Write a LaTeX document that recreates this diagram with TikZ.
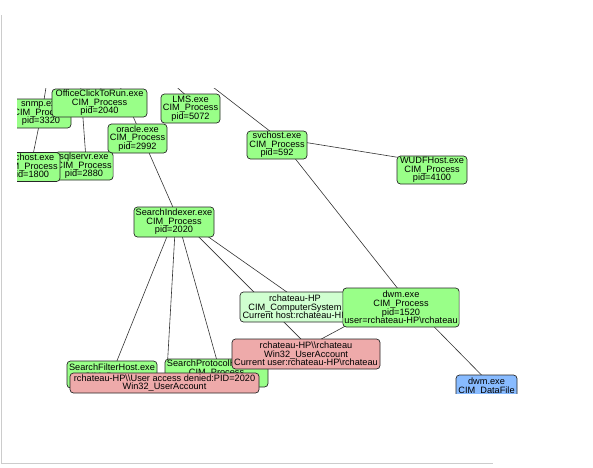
\documentclass[tikz,border=0pt]{standalone}
\usepackage{fontspec}
\setmainfont{Liberation Sans}
\usetikzlibrary{backgrounds}
\definecolor{procgreen}{RGB}{153,255,136}
\definecolor{hostgreen}{RGB}{208,255,208}
\definecolor{userred}{RGB}{238,170,170}
\definecolor{fileblue}{RGB}{136,187,255}
\definecolor{framegray}{RGB}{204,204,204}
\newcommand{\bsl}{\textbackslash}
\begin{document}
\begin{tikzpicture}[x=1pt,y=-1pt,
  box/.style={draw=black!85, line width=0.7pt, rounded corners=3.5pt,
    inner xsep=1.5pt, inner ysep=0pt, align=center,
    font=\fontsize{9.2}{8.6}\selectfont},
  proc/.style={box, fill=procgreen},
  hostbox/.style={box, fill=hostgreen},
  userbox/.style={box, fill=userred},
  filebox/.style={box, fill=fileblue},
  edge/.style={draw=black!80, line width=0.6pt}]
\useasboundingbox (0,0) rectangle (593,467);
\draw[framegray, line width=1pt] (1.5,15) -- (1.5,463.5) -- (493,463.5);
\begin{scope}
\clip (17,88) rectangle (593,393);
\node[proc, minimum width=60pt, minimum height=29pt] (snmp) at (41,113.5) {snmp.exe\\CIM\_Process\\pid=3320};
\node[proc, minimum width=95pt, minimum height=28pt] (office) at (99.5,103) {OfficeClickToRun.exe\\CIM\_Process\\pid=2040};
\node[proc, minimum width=59pt, minimum height=29pt] (lms) at (190.5,108.5) {LMS.exe\\CIM\_Process\\pid=5072};
\node[proc, minimum width=59pt, minimum height=29pt] (oracle) at (137.5,138.5) {oracle.exe\\CIM\_Process\\pid=2992};
\node[proc, minimum width=58pt, minimum height=28pt] (sqlservr) at (84,166) {sqlservr.exe\\CIM\_Process\\pid=2880};
\node[proc, minimum width=60pt, minimum height=29pt] (svc1800) at (30,167) {svchost.exe\\CIM\_Process\\pid=1800};
\node[proc, minimum width=60pt, minimum height=28pt] (svc592) at (277,145) {svchost.exe\\CIM\_Process\\pid=592};
\node[proc, minimum width=70pt, minimum height=28pt] (wudf) at (432,170) {WUDFHost.exe\\CIM\_Process\\pid=4100};
\node[proc, minimum width=80pt, minimum height=30pt] (sidx) at (174,222) {SearchIndexer.exe\\CIM\_Process\\pid=2020};
\node[hostbox, minimum width=110pt, minimum height=30pt] (host) at (295,307) {rchateau-HP\\CIM\_ComputerSystem\\Current host:rchateau-HP};
\node[proc, minimum width=116pt, minimum height=39pt] (dwm) at (401,307.5) {dwm.exe\\CIM\_Process\\pid=1520\\user=rchateau-HP\bsl rchateau};
\node[proc, minimum width=90pt, minimum height=27pt] (sfh) at (112,374.5) {\rule{0pt}{9pt}SearchFilterHost.exe\\CIM\_Process\\\phantom{X}};
\node[proc, minimum width=103pt, minimum height=28pt] (sph) at (216.5,373) {SearchProtocolHost.exe\\CIM\_Process\\\phantom{pid=0000}};
\node[userbox, minimum width=148pt, minimum height=30pt] (user) at (306,354) {rchateau-HP\bsl\bsl rchateau\\Win32\_UserAccount\\Current user:rchateau-HP\bsl rchateau};
\node[userbox, minimum width=189pt, minimum height=20pt] (denied) at (164.5,383) {rchateau-HP\bsl\bsl User access denied:PID=2020\\Win32\_UserAccount};
\node[filebox, minimum width=61pt, minimum height=30pt] (dfile) at (486.5,390) {dwm.exe\\CIM\_DataFile\\\phantom{x}};
\end{scope}
\foreach \n in {snmp,office,lms,oracle,sqlservr,svc1800,svc592,wudf,sidx,host,dwm,sfh,sph,user,denied,dfile}
  \coordinate (\n-p) at ([shift={(2,7.5)}]\n.north);
\coordinate (up-snmp) at (52,50);
\coordinate (up-sql) at (78,50);
\coordinate (up-office) at (98,50);
\coordinate (up-oracle) at (104,50);
\coordinate (up-lms) at (135,50);
\coordinate (up-svc) at (165,50);
\begin{pgfonlayer}{background}
\clip (17,88) rectangle (593,393);
\draw[edge] (up-snmp) -- (snmp-p);
\draw[edge] (up-sql) -- (sqlservr-p);
\draw[edge] (up-office) -- (office-p);
\draw[edge] (up-oracle) -- (oracle-p);
\draw[edge] (up-lms) -- (lms-p);
\draw[edge] (up-svc) -- (svc592-p);
\draw[edge] (snmp-p) -- (svc1800-p);
\draw[edge] (oracle-p) -- (sidx-p);
\draw[edge] (svc592-p) -- (wudf-p);
\draw[edge] (svc592-p) -- (dwm-p);
\draw[edge] (dwm-p) -- (dfile-p);
\draw[edge] (dwm-p) -- (user-p);
\draw[edge] (sidx-p) -- (sfh-p);
\draw[edge] (sidx-p) -- (denied-p);
\draw[edge] (sidx-p) -- (sph-p);
\draw[edge] (sidx-p) -- (user-p);
\draw[edge] (sidx-p) -- (host-p);
\end{pgfonlayer}
\end{tikzpicture}
\end{document}
